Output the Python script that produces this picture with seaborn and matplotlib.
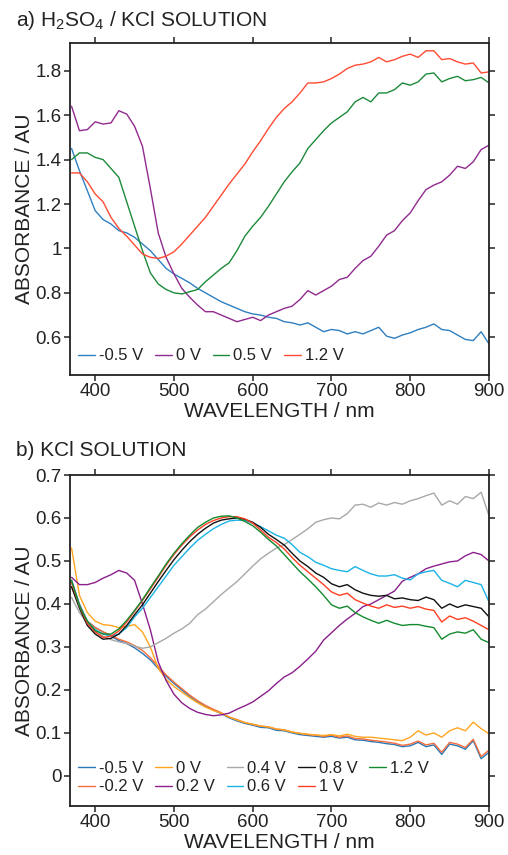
import numpy as np
import pandas as pd
import seaborn as sns
from matplotlib import pyplot as plt

# wavelength grid (nm), 370..900 every 10 nm
wl = list(range(370, 901, 10))

# a) H2SO4 / KCl solution
a_m05 = [1.45, 1.35, 1.26, 1.17, 1.13, 1.11, 1.08, 1.07, 1.05, 1.02, 0.99, 0.95, 0.91, 0.885,
         0.865, 0.845, 0.82, 0.80, 0.78, 0.76, 0.745, 0.73, 0.715, 0.705, 0.70, 0.69, 0.685,
         0.67, 0.665, 0.655, 0.665, 0.645, 0.625, 0.635, 0.63, 0.615, 0.625, 0.615, 0.63,
         0.645, 0.605, 0.595, 0.61, 0.62, 0.635, 0.645, 0.66, 0.635, 0.63, 0.61, 0.59, 0.585,
         0.625, 0.57]
a_0 = [1.64, 1.53, 1.535, 1.57, 1.56, 1.565, 1.62, 1.605, 1.55, 1.46, 1.27, 1.07, 0.96, 0.885,
       0.82, 0.78, 0.745, 0.715, 0.715, 0.70, 0.685, 0.67, 0.68, 0.69, 0.675, 0.70, 0.715,
       0.73, 0.74, 0.77, 0.81, 0.79, 0.81, 0.83, 0.86, 0.87, 0.91, 0.945, 0.965, 1.01, 1.06,
       1.08, 1.125, 1.16, 1.215, 1.265, 1.285, 1.30, 1.33, 1.37, 1.36, 1.39, 1.445, 1.465]
a_05 = [1.40, 1.43, 1.43, 1.41, 1.40, 1.36, 1.32, 1.21, 1.10, 0.99, 0.89, 0.84, 0.815, 0.80,
        0.795, 0.805, 0.815, 0.85, 0.88, 0.91, 0.935, 0.99, 1.055, 1.10, 1.14, 1.19, 1.245,
        1.30, 1.345, 1.385, 1.45, 1.49, 1.53, 1.565, 1.59, 1.615, 1.66, 1.68, 1.66, 1.70,
        1.70, 1.715, 1.745, 1.735, 1.75, 1.785, 1.79, 1.75, 1.765, 1.775, 1.755, 1.76, 1.77,
        1.745]
a_12 = [1.34, 1.34, 1.30, 1.245, 1.21, 1.14, 1.09, 1.055, 1.015, 0.975, 0.96, 0.955, 0.965,
        0.985, 1.02, 1.06, 1.10, 1.14, 1.19, 1.24, 1.29, 1.335, 1.38, 1.435, 1.485, 1.54,
        1.59, 1.63, 1.66, 1.70, 1.745, 1.745, 1.75, 1.765, 1.785, 1.81, 1.825, 1.83, 1.84,
        1.86, 1.84, 1.85, 1.865, 1.875, 1.86, 1.89, 1.89, 1.85, 1.855, 1.84, 1.83, 1.835,
        1.79, 1.795]

# b) KCl solution
b_m05 = [0.455, 0.40, 0.36, 0.345, 0.335, 0.325, 0.315, 0.308, 0.298, 0.285, 0.27, 0.25, 0.232,
         0.215, 0.20, 0.185, 0.172, 0.162, 0.153, 0.145, 0.135, 0.128, 0.122, 0.118, 0.113,
         0.112, 0.106, 0.105, 0.10, 0.096, 0.094, 0.092, 0.09, 0.092, 0.088, 0.09, 0.084, 0.083,
         0.08, 0.078, 0.075, 0.073, 0.068, 0.07, 0.078, 0.068, 0.072, 0.05, 0.074, 0.07, 0.062,
         0.082, 0.04, 0.055]
b_m02 = [0.44, 0.395, 0.36, 0.345, 0.335, 0.327, 0.318, 0.312, 0.303, 0.292, 0.275, 0.255, 0.235,
         0.218, 0.203, 0.188, 0.175, 0.164, 0.155, 0.147, 0.137, 0.131, 0.124, 0.12, 0.116,
         0.114, 0.109, 0.107, 0.102, 0.099, 0.096, 0.095, 0.092, 0.095, 0.09, 0.093, 0.087,
         0.086, 0.083, 0.081, 0.079, 0.076, 0.071, 0.074, 0.081, 0.072, 0.076, 0.055, 0.078,
         0.074, 0.066, 0.085, 0.045, 0.06]
b_0 = [0.53, 0.42, 0.38, 0.36, 0.352, 0.35, 0.345, 0.348, 0.352, 0.335, 0.30, 0.25, 0.225,
       0.208, 0.195, 0.182, 0.17, 0.16, 0.152, 0.146, 0.137, 0.13, 0.124, 0.12, 0.116, 0.114,
       0.109, 0.107, 0.102, 0.099, 0.097, 0.095, 0.094, 0.096, 0.093, 0.097, 0.092, 0.09,
       0.09, 0.088, 0.086, 0.084, 0.082, 0.09, 0.105, 0.095, 0.10, 0.09, 0.105, 0.112, 0.105,
       0.125, 0.11, 0.098]
b_02 = [0.462, 0.445, 0.445, 0.45, 0.46, 0.468, 0.478, 0.472, 0.455, 0.40, 0.34, 0.265, 0.222,
        0.19, 0.17, 0.157, 0.148, 0.143, 0.14, 0.142, 0.146, 0.155, 0.163, 0.172, 0.185,
        0.198, 0.215, 0.23, 0.24, 0.255, 0.272, 0.29, 0.316, 0.333, 0.35, 0.365, 0.378, 0.394,
        0.40, 0.41, 0.42, 0.43, 0.453, 0.462, 0.47, 0.482, 0.488, 0.493, 0.498, 0.50, 0.512,
        0.52, 0.515, 0.50]
b_04 = [0.415, 0.38, 0.355, 0.335, 0.325, 0.317, 0.312, 0.308, 0.302, 0.297, 0.30, 0.31, 0.32,
        0.332, 0.342, 0.355, 0.375, 0.388, 0.405, 0.422, 0.437, 0.452, 0.47, 0.488, 0.505,
        0.518, 0.53, 0.538, 0.55, 0.562, 0.575, 0.59, 0.596, 0.60, 0.598, 0.61, 0.63, 0.632,
        0.625, 0.635, 0.63, 0.636, 0.632, 0.64, 0.645, 0.652, 0.658, 0.63, 0.64, 0.632, 0.65,
        0.645, 0.66, 0.605]
b_06 = [0.45, 0.395, 0.36, 0.34, 0.33, 0.325, 0.33, 0.345, 0.37, 0.39, 0.415, 0.44, 0.465,
        0.49, 0.51, 0.53, 0.548, 0.562, 0.575, 0.585, 0.593, 0.595, 0.594, 0.588, 0.58, 0.57,
        0.56, 0.553, 0.538, 0.52, 0.51, 0.497, 0.49, 0.482, 0.478, 0.475, 0.487, 0.478, 0.47,
        0.465, 0.465, 0.468, 0.46, 0.456, 0.47, 0.475, 0.478, 0.455, 0.448, 0.44, 0.455, 0.45,
        0.445, 0.405]
b_08 = [0.44, 0.39, 0.35, 0.33, 0.318, 0.32, 0.33, 0.35, 0.375, 0.398, 0.425, 0.452, 0.478,
        0.503, 0.525, 0.545, 0.562, 0.576, 0.588, 0.595, 0.598, 0.60, 0.597, 0.59, 0.578,
        0.562, 0.55, 0.537, 0.518, 0.50, 0.487, 0.472, 0.462, 0.447, 0.44, 0.445, 0.433,
        0.425, 0.42, 0.418, 0.42, 0.412, 0.414, 0.41, 0.408, 0.416, 0.41, 0.39, 0.40, 0.392,
        0.398, 0.394, 0.39, 0.37]
b_1 = [0.45, 0.395, 0.355, 0.335, 0.322, 0.325, 0.337, 0.358, 0.383, 0.408, 0.435, 0.462, 0.49,
       0.515, 0.537, 0.556, 0.572, 0.585, 0.594, 0.60, 0.603, 0.603, 0.598, 0.588, 0.572,
       0.555, 0.543, 0.528, 0.508, 0.49, 0.475, 0.46, 0.445, 0.428, 0.42, 0.425, 0.41, 0.402,
       0.395, 0.39, 0.398, 0.392, 0.395, 0.39, 0.394, 0.388, 0.385, 0.358, 0.372, 0.364,
       0.368, 0.36, 0.35, 0.34]
b_12 = [0.455, 0.395, 0.36, 0.338, 0.33, 0.33, 0.342, 0.362, 0.385, 0.41, 0.438, 0.465, 0.493,
        0.518, 0.54, 0.56, 0.578, 0.59, 0.60, 0.604, 0.605, 0.60, 0.592, 0.582, 0.567, 0.55,
        0.535, 0.515, 0.495, 0.475, 0.458, 0.44, 0.42, 0.398, 0.39, 0.395, 0.38, 0.37, 0.362,
        0.355, 0.362, 0.355, 0.35, 0.352, 0.352, 0.348, 0.345, 0.318, 0.33, 0.335, 0.332,
        0.34, 0.318, 0.31]

a_labels = ['-0.5 V', '0 V', '0.5 V', '1.2 V']
a_series = [a_m05, a_0, a_05, a_12]
a_colors = ['#2f7fc1', '#912a8f', '#1d8a3a', '#ff4b33']

b_labels = ['-0.5 V', '-0.2 V', '0 V', '0.2 V', '0.4 V', '0.6 V', '0.8 V', '1 V', '1.2 V']
b_series = [b_m05, b_m02, b_0, b_02, b_04, b_06, b_08, b_1, b_12]
b_colors = ['#2a78b8', '#f46d3c', '#ffa51f', '#8b1f8b', '#a8a8a8', '#1ab3e6', '#111111',
            '#ff3f23', '#138a2e']


def long_df(labels, series):
    rows = []
    for lab, ys in zip(labels, series):
        for x, y in zip(wl, ys):
            rows.append((lab, x, y))
    return pd.DataFrame(rows, columns=['pot', 'wl', 'abs'])


sns.set_style('ticks')
plt.rcParams['font.family'] = ['Liberation Sans', 'DejaVu Sans']
plt.rcParams['mathtext.fontset'] = 'custom'
plt.rcParams['mathtext.rm'] = 'Liberation Sans'
plt.rcParams['mathtext.it'] = 'Liberation Sans'

fig = plt.figure(figsize=(5.08, 8.55), dpi=100)
ax1 = fig.add_axes([70 / 508, 1 - 375 / 855, 419 / 508, 332 / 855])
ax2 = fig.add_axes([70 / 508, 1 - 806 / 855, 419 / 508, 331 / 855])

panels = [
    (ax1, long_df(a_labels, a_series), a_labels, a_colors, (0.43, 1.925),
     np.arange(0.6, 1.81, 0.2), 4),
    (ax2, long_df(b_labels, b_series), b_labels, b_colors, (-0.07, 0.7),
     np.arange(0, 0.71, 0.1), 5),
]

for ax, df, labels, colors, ylim, yt, ncol in panels:
    sns.lineplot(data=df, x='wl', y='abs', hue='pot', hue_order=labels,
                 palette=dict(zip(labels, colors)), linewidth=1.0, ax=ax)
    ax.set_xlim(368, 900)
    ax.set_ylim(*ylim)
    ax.set_xticks([400, 500, 600, 700, 800, 900])
    ax.set_yticks(yt)
    ax.yaxis.set_major_formatter(plt.FuncFormatter(lambda v, p: ('%g' % round(v, 2))))
    ax.tick_params(axis='both', which='both', direction='out', length=4, width=1.1,
                   labelsize=13.5, color='#222222', labelcolor='#222222', pad=2,
                   top=True, right=True)
    for s in ax.spines.values():
        s.set_linewidth(1.3)
        s.set_color('#222222')
    ax.set_xlabel('WAVELENGTH / nm', fontsize=15, color='#222222', labelpad=1)
    ax.set_ylabel('ABSORBANCE / AU', fontsize=15, color='#222222')
    ax.yaxis.set_label_coords(-0.086, 0.5)
    h, l = ax.get_legend_handles_labels()
    ax.legend(h, l, ncol=ncol, loc='lower left', bbox_to_anchor=(0.02, 0.035),
              frameon=False, fontsize=12, handlelength=1.0, handletextpad=0.25,
              columnspacing=0.7, borderpad=0, borderaxespad=0, labelspacing=0.2,
              labelcolor='#222222')

fig.text(16 / 508, 1 - 20 / 855, r'a) H$_\mathregular{2}$SO$_\mathregular{4}$ / KCl SOLUTION',
         fontsize=15, color='#222222', va='center', ha='left')
fig.text(16 / 508, 1 - 450 / 855, 'b) KCl SOLUTION',
         fontsize=15, color='#222222', va='center', ha='left')

fig.savefig('out.png', dpi=100)
